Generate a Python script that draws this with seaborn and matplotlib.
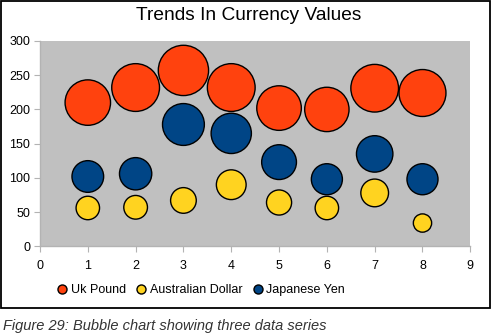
import matplotlib
matplotlib.use("Agg")
import matplotlib.pyplot as plt
import seaborn as sns
import pandas as pd
from matplotlib.lines import Line2D
from matplotlib.patches import Rectangle

# ---- data ----
x_positions = [1, 2, 3, 4, 5, 6, 7, 8]
uk_pound = [210, 232, 257, 232, 202, 200, 231, 224]
australian_dollar = [56, 57, 67, 90, 64, 56, 78, 34]
japanese_yen = [102, 106, 178, 165, 123, 98, 135, 98]
uk_pound_size = [210, 232, 257, 232, 202, 200, 231, 224]
australian_dollar_size = [56, 57, 67, 90, 64, 56, 78, 34]
japanese_yen_size = [102, 106, 178, 165, 123, 98, 135, 98]
series_names = ["Uk Pound", "Australian Dollar", "Japanese Yen"]
series_colors = ["#FF420E", "#FFD320", "#004586"]
x_ticks = [0, 1, 2, 3, 4, 5, 6, 7, 8, 9]
y_ticks = [0, 50, 100, 150, 200, 250, 300]
title = "Trends In Currency Values"
caption = "Figure 29: Bubble chart showing three data series"

values = [uk_pound, australian_dollar, japanese_yen]
sizes = [uk_pound_size, australian_dollar_size, japanese_yen_size]
rows = []
for name, vals, szs in zip(series_names, values, sizes):
    for xv, yv, sv in zip(x_positions, vals, szs):
        rows.append({"x": xv, "y": yv, "size": sv, "series": name})
df = pd.DataFrame(rows)

plt.rcParams["font.family"] = ["Liberation Sans", "DejaVu Sans"]

fig = plt.figure(figsize=(4.91, 3.35), dpi=100)
ax = fig.add_axes([40 / 491, 1 - 246.3 / 335, (470.3 - 40) / 491, (246.3 - 41) / 335])
ax.set_facecolor("#C0C0C0")

k = 5.1
sns.scatterplot(data=df, x="x", y="y", hue="series", size="size",
                palette=dict(zip(series_names, series_colors)),
                sizes=(0, k * 300), size_norm=(0, 300),
                edgecolor="black", linewidth=1.0, alpha=1,
                legend=False, ax=ax, zorder=3, clip_on=False)

ax.set_xlim(0, 9)
ax.set_ylim(0, 300)
ax.set_xticks(x_ticks)
ax.set_yticks(y_ticks)
ax.set_xlabel("")
ax.set_ylabel("")
for s in ["top", "right"]:
    ax.spines[s].set_visible(False)
for s in ["left", "bottom"]:
    ax.spines[s].set_color("#b3b3b3")
    ax.spines[s].set_linewidth(1.0)
ax.tick_params(axis="both", length=4, color="#b3b3b3", labelcolor="black", labelsize=9)
ax.tick_params(axis="x", pad=6)
ax.tick_params(axis="y", pad=3)

fig.text(249 / 491, 1 - 15 / 335, title, ha="center", va="center", fontsize=13.8)

handles = [Line2D([0], [0], marker="o", linestyle="", markersize=6.5,
                  markerfacecolor=c, markeredgecolor="black", markeredgewidth=1.0)
           for c in series_colors]
fig.legend(handles, series_names, loc="center left", bbox_to_anchor=(56 / 491, 1 - 290 / 335),
           ncol=3, frameon=False, fontsize=9, handletextpad=0.2, columnspacing=0.7,
           handlelength=1.0, borderpad=0, borderaxespad=0)

fig.patches.append(Rectangle((1 / 491, 1 - 307.5 / 335), 489 / 491, 306.5 / 335,
                             transform=fig.transFigure, fill=False, edgecolor="black",
                             linewidth=1.3))

fig.text(3 / 491, 1 - 326 / 335, caption, ha="left", va="center", fontsize=10.5,
         style="italic", color="#333333")

fig.savefig("out.png", dpi=100)
